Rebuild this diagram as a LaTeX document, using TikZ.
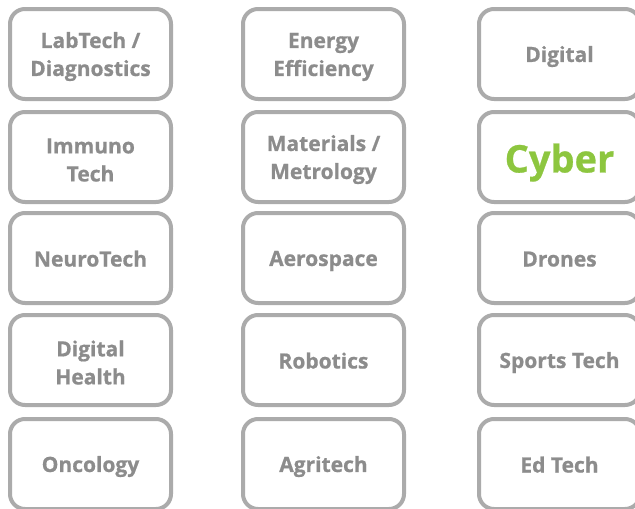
\documentclass[tikz,border=0pt]{standalone}
\usepackage{fontspec}
\setmainfont{Open Sans}[BoldFeatures={FakeBold=0.7}]
\definecolor{boxgray}{HTML}{ABABAB}
\definecolor{txtgray}{HTML}{8C8C8C}
\definecolor{cybergreen}{HTML}{8DC63F}
\newcommand{\ls}{\rule[-4pt]{0pt}{25pt}}
\newcommand{\lsbig}{\rule[-8pt]{0pt}{48pt}}
\begin{document}
\begin{tikzpicture}[x=1pt,y=-1pt,
  tile/.style={draw=boxgray, line width=4pt, rounded corners=15pt, fill=white,
    minimum width=161pt, minimum height=90pt, inner sep=0pt,
    text=txtgray, align=center,
    font=\fontsize{21}{28}\selectfont\bfseries},
  hot/.style={tile, text=cybergreen, font=\fontsize{38}{44}\selectfont\bfseries}]
\useasboundingbox (0,0) rectangle (635,509);
\node[tile] (lab)   at (90.5,54)  {\ls LabTech /\\Diagnostics};
\node[tile] (imm)   at (90.5,157) {\ls Immuno\\Tech};
\node[tile] (neuro) at (90.5,258) {\ls NeuroTech};
\node[tile] (dh)    at (90.5,360) {\ls Digital\\Health};
\node[tile] (onc)   at (90.5,464) {\ls Oncology};
\node[tile] (ene)   at (323.5,54)  {\ls Energy\\Efficiency};
\node[tile] (mat)   at (323.5,157) {\ls Materials /\\Metrology};
\node[tile] (aero)  at (323.5,258) {\ls Aerospace};
\node[tile] (rob)   at (323.5,360) {\ls Robotics};
\node[tile] (agri)  at (323.5,464) {\ls Agritech};
\node[tile] (dig)   at (559.5,54)  {\ls Digital};
\node[hot]  (cyber) at (559.5,157) {\lsbig Cyber};
\node[tile] (dron)  at (559.5,258) {\ls Drones};
\node[tile] (sport) at (559.5,360) {\ls Sports Tech};
\node[tile] (ed)    at (559.5,464) {\ls Ed Tech};
\end{tikzpicture}
\end{document}
